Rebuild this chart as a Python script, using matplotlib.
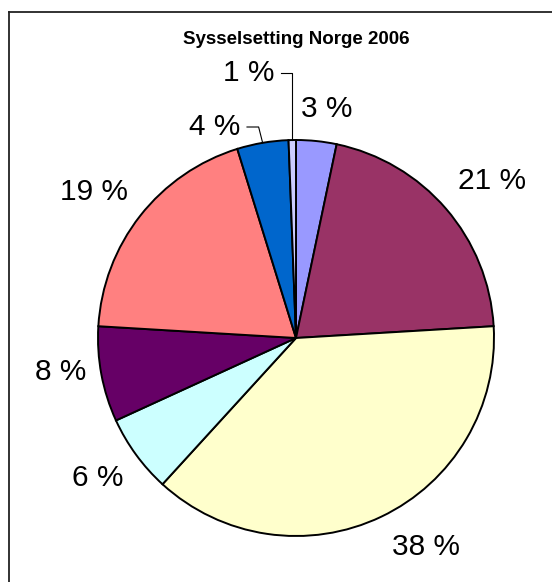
import numpy as np
import matplotlib.pyplot as plt
from matplotlib.lines import Line2D

plt.rcParams['font.family'] = ['Liberation Sans', 'DejaVu Sans']

# Sysselsetting Norge 2006 - andeler (prosent), med klokka fra toppen
values = [3.3, 20.8, 37.8, 6.4, 7.8, 19.3, 4.2, 0.6]
colors = ['#9999FF', '#993366', '#FFFFCC', '#CCFFFF',
          '#660066', '#FF8080', '#0066CC', '#CCCCFF']
title = "Sysselsetting Norge 2006"

W, H = 552, 582
fig = plt.figure(figsize=(W / 100, H / 100), dpi=100)
ax = fig.add_axes([0, 0, 1, 1])

cx, cy, R = 296, H - 338, 198
wedges, _ = ax.pie(values, colors=colors, startangle=90, counterclock=False,
                   center=(cx, cy), radius=R, frame=True,
                   wedgeprops=dict(edgecolor='black', linewidth=1.4))
ax.set_xlim(0, W)
ax.set_ylim(0, H)
ax.set_aspect('equal')
ax.axis('off')

# plassering av etikettene (piksler fra toppen), som i Excel-figuren
label_pos = [(327, 109), (492, 181), (426, 547), (98, 478),
             (61, 372), (94, 192), (215, 127), (249, 73)]
leader = {6, 7}

total = sum(values)
for i, (w, v) in enumerate(zip(wedges, values)):
    mid = np.deg2rad((w.theta1 + w.theta2) / 2)
    txt = f"{v / total * 100:.0f} %"
    tx, ty = label_pos[i][0], H - label_pos[i][1]
    ax.text(tx, ty, txt, ha='center', va='center', fontsize=21.5)
    if i in leader:
        ex, ey = cx + R * np.cos(mid), cy + R * np.sin(mid)
        x0 = tx + 32
        xk = ex if i == 7 else ex - 4
        ax.plot([x0, xk, ex], [ty, ty, ey], color='black', lw=0.8)

ax.text(296, H - 44, title, ha='center', va='baseline', fontsize=13.5,
        fontweight='bold')

# ramme (topp og venstre)
fig.add_artist(Line2D([9 / W, 1], [1 - 12 / H, 1 - 12 / H], color='#222222', lw=1.3))
fig.add_artist(Line2D([9 / W, 9 / W], [0, 1 - 12 / H], color='#222222', lw=1.3))

fig.savefig("out.png", dpi=100)
